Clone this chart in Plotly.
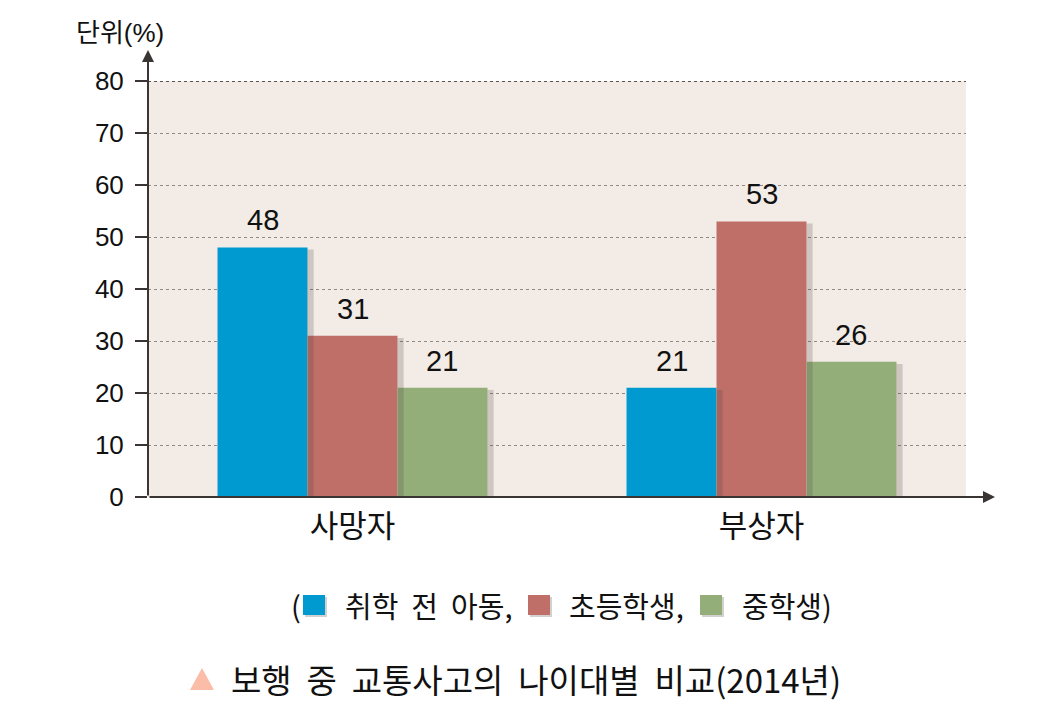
import plotly.graph_objects as go

# data
categories = ['사망자', '부상자']
series_names = ['취학 전 아동', '초등학생', '중학생']
preschool = [48, 21]
elementary = [31, 53]
middle = [21, 26]
y_ticks = [0, 10, 20, 30, 40, 50, 60, 70, 80]

COLORS = ['#009ad0', '#bf6e68', '#93ae79']
FONT = 'Liberation Sans, Noto Sans CJK KR, sans-serif'
KR_FONT = 'Noto Sans CJK KR, sans-serif'

BAR_W = 0.22
OFFSETS = [-0.33, -0.11, 0.11]
SHADOW_W = 0.015
x_pos = list(range(len(categories)))

# plot area in page pixels, used to place the decorations outside it
PX0, PX1, PY0, PY1 = 148, 966, 81, 497


def px(x):
    return (x - PX0) / (PX1 - PX0)


def py(y):
    return (PY1 - y) / (PY1 - PY0)


fig = go.Figure()
all_series = [preschool, elementary, middle]
for name, vals, color, off in zip(series_names, all_series, COLORS, OFFSETS):
    fig.add_trace(go.Bar(
        name=name, x=x_pos, y=vals,
        width=BAR_W, offset=off,
        marker=dict(color=color, line=dict(width=0)),
    ))

# soft shadow strip on the right of each bar
for vals, off in zip(all_series, OFFSETS):
    fig.add_trace(go.Bar(
        x=x_pos, y=[v - 0.4 for v in vals],
        width=SHADOW_W, offset=off + BAR_W,
        marker=dict(color='rgba(80,70,65,0.22)', line=dict(width=0)),
        hoverinfo='skip',
    ))

# value labels
for vals, off in zip(all_series, OFFSETS):
    for xi, v in zip(x_pos, vals):
        fig.add_annotation(x=xi + off + BAR_W / 2, y=v, xref='x', yref='y',
                           text=str(v), showarrow=False, yanchor='bottom', yshift=9,
                           font=dict(size=29, color='#111111'))

fig.update_layout(
    width=1053, height=709,
    barmode='overlay',
    showlegend=False,
    paper_bgcolor='white',
    plot_bgcolor='#f2ebe6',
    margin=dict(l=140, r=95, t=73, b=220),
    font=dict(family=FONT, color='#222222'),
    xaxis=dict(
        range=[-0.5, 1.5],
        tickvals=x_pos,
        ticktext=categories,
        showline=False,
        showgrid=False,
        zeroline=False,
        ticks='',
        tickfont=dict(size=31, color='#111111', family=KR_FONT),
        ticklabelstandoff=8,
    ),
    yaxis=dict(
        range=[0, 80],
        tickvals=y_ticks,
        showline=False,
        showgrid=True,
        gridcolor='#8f8884',
        griddash='3px,3px',
        gridwidth=1,
        zeroline=False,
        ticks='outside',
        ticklen=12,
        tickwidth=2,
        tickcolor='#3a3532',
        tickfont=dict(size=26, color='#111111'),
        ticklabelstandoff=6,
    ),
)

# darker top line at 80
fig.add_shape(type='line', xref='paper', yref='y', x0=0, x1=1, y0=80, y1=80,
              line=dict(color='#2a2522', width=1.5, dash='3px,3px'))

# axis lines with arrows
fig.add_annotation(xref='paper', yref='paper', x=0, y=py(50), ax=0, ay=447,
                   showarrow=True, arrowhead=2, arrowsize=1.2, arrowwidth=2,
                   arrowcolor='#3a3532', text='')
fig.add_annotation(xref='paper', yref='paper', x=px(995), y=0, ax=-847, ay=0,
                   showarrow=True, arrowhead=2, arrowsize=1.2, arrowwidth=2,
                   arrowcolor='#3a3532', text='')

# unit label
fig.add_annotation(xref='paper', yref='paper', x=px(74), y=py(33), xanchor='left',
                   yanchor='middle', showarrow=False, text='단위(%)',
                   font=dict(size=26, color='#111111'))

# legend row: (■ 취학 전 아동, ■ 초등학생, ■ 중학생)
legend_y = 605
legend_sq = [303, 528, 700]
legend_txt = [(289, '('), (343, '취학&nbsp;&nbsp;전&nbsp;&nbsp;아동,'),
              (567, '초등학생,'), (740, '중학생)')]
for x0, color in zip(legend_sq, COLORS):
    fig.add_shape(type='rect', xref='paper', yref='paper', layer='above',
                  x0=px(x0 + 2), x1=px(x0 + 24), y0=py(legend_y - 8), y1=py(legend_y + 12),
                  fillcolor='rgba(80,70,65,0.25)', line=dict(width=0))
    fig.add_shape(type='rect', xref='paper', yref='paper', layer='above',
                  x0=px(x0), x1=px(x0 + 22), y0=py(legend_y - 10), y1=py(legend_y + 10),
                  fillcolor=color, line=dict(width=0))
for x0, txt in legend_txt:
    fig.add_annotation(xref='paper', yref='paper', x=px(x0), y=py(legend_y),
                       xanchor='left', yanchor='middle', showarrow=False, text=txt,
                       font=dict(size=29, color='#111111', family=KR_FONT))

# caption with pink triangle
cap_y = 679
fig.add_shape(type='path', xref='paper', yref='paper',
              path='M {} {} L {} {} L {} {} Z'.format(px(190), py(690), px(214), py(690),
                                                       px(202), py(668)),
              fillcolor='#fbbca8', line=dict(width=0))
fig.add_annotation(xref='paper', yref='paper', x=px(229), y=py(cap_y), xanchor='left',
                   yanchor='middle', showarrow=False,
                   text='보행&nbsp;&nbsp;중&nbsp;&nbsp;교통사고의&nbsp;&nbsp;나이대별&nbsp;&nbsp;비교(2014년)',
                   font=dict(size=33, color='#111111', family=KR_FONT))

fig.write_html('out.html')
